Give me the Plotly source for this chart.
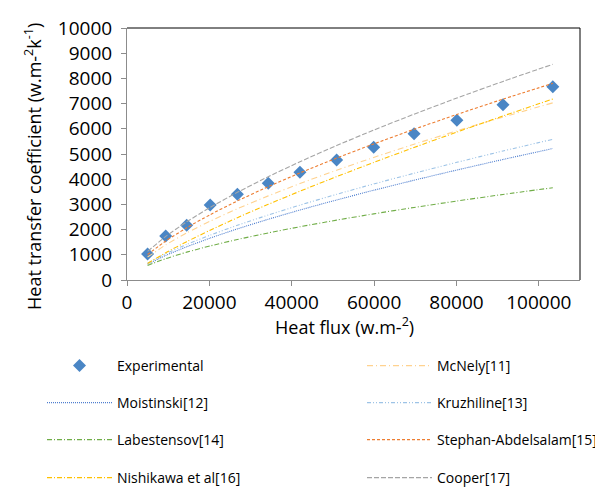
import plotly.graph_objects as go

# ---- data ----
heat_flux = [5000, 9400, 14500, 20200, 26800, 34300, 42000, 50900, 59900, 69700, 80100, 91300, 103400]

experimental = [1030, 1750, 2170, 2980, 3400, 3840, 4280, 4760, 5270, 5800, 6340, 6950, 7670]
mcnely       = [910, 1393, 1867, 2335, 2826, 3338, 3827, 4358, 4864, 5388, 5918, 6465, 7031]
moistinski   = [626, 974, 1319, 1663, 2028, 2410, 2777, 3177, 3560, 3959, 4364, 4782, 5217]
kruzhiline   = [670, 1042, 1412, 1780, 2170, 2579, 2972, 3400, 3811, 4237, 4670, 5118, 5584]
labestensov  = [577, 848, 1105, 1352, 1607, 1868, 2114, 2376, 2625, 2879, 3134, 3394, 3662]
stephan      = [1010, 1547, 2072, 2592, 3137, 3705, 4248, 4837, 5399, 5980, 6569, 7175, 7804]
nishikawa    = [656, 1080, 1521, 1977, 2471, 3003, 3524, 4102, 4665, 5259, 5870, 6508, 7182]
cooper       = [1135, 1729, 2309, 2880, 3478, 4100, 4693, 5336, 5947, 6581, 7221, 7880, 8560]

x_ticks = [0, 20000, 40000, 60000, 80000, 100000]
y_ticks = [0, 1000, 2000, 3000, 4000, 5000, 6000, 7000, 8000, 9000, 10000]

x_title = "Heat flux (w.m-<sup>2</sup>)"
y_title = "Heat transfer coefficient (w.m-<sup>2</sup>k<sup>-1</sup>)"

FONT = "Open Sans"

series = [
    ("McNely[11]", mcnely, "#FFD28F", "6px,3px,1px,3px", "legend2"),
    ("Moistinski[12]", moistinski, "#4F7FCF", "1px,1px", "legend3"),
    ("Kruzhiline[13]", kruzhiline, "#9DC3E6", "4px,2px,1px,2px,1px,2px", "legend4"),
    ("Labestensov[14]", labestensov, "#70AD47", "5px,2px,1px,2px", "legend5"),
    ("Stephan-Abdelsalam[15]", stephan, "#ED7D31", "3px,2px", "legend6"),
    ("Nishikawa et al[16]", nishikawa, "#FFC000", "5px,2px,1px,2px", "legend7"),
    ("Cooper[17]", cooper, "#A5A5A5", "5px,2px", "legend8"),
]

fig = go.Figure()
fig.add_trace(go.Scatter(
    x=heat_flux, y=experimental, mode="markers", name="Experimental",
    marker=dict(symbol="diamond", size=10, color="#4A86C5"),
    legend="legend"))
for name, vals, color, dash, lg in series:
    fig.add_trace(go.Scatter(
        x=heat_flux, y=vals, mode="lines", name=name,
        line=dict(color=color, width=1.1, dash=dash, shape="spline", smoothing=0.6),
        legend=lg))

W, H = 603, 488
rows_y = [358, 395, 432, 470]
left_x, right_x = 34, 354
positions = [
    (left_x, rows_y[0]), (right_x, rows_y[0]),
    (left_x, rows_y[1]), (right_x, rows_y[1]),
    (left_x, rows_y[2]), (right_x, rows_y[2]),
    (left_x, rows_y[3]), (right_x, rows_y[3]),
]
legend_names = ["legend", "legend2", "legend3", "legend4", "legend5", "legend6", "legend7", "legend8"]
legend_layout = {}
for lg, (px, py) in zip(legend_names, positions):
    legend_layout[lg] = dict(
        x=px / W, y=1 - py / H, xref="container", yref="container",
        xanchor="left", yanchor="middle", bgcolor="rgba(0,0,0,0)",
        font=dict(family=FONT, size=14, color="#000000"), itemwidth=65,
    )

L, R, T, B = 119, 31, 20, 216
plot_w = W - L - R
plot_h = H - T - B

fig.update_layout(
    width=W, height=H,
    margin=dict(l=L, r=R, t=T, b=B, autoexpand=False),
    paper_bgcolor="white", plot_bgcolor="white",
    showlegend=True,
    font=dict(family=FONT, color="#000000"),
    xaxis=dict(
        range=[0, 110000], tickvals=x_ticks, ticktext=[str(v) for v in x_ticks],
        showgrid=False, zeroline=False, showline=True, linecolor="#8C8C8C", linewidth=1,
        ticks="outside", ticklen=5, tickcolor="#8C8C8C",
        tickfont=dict(family=FONT, size=19, color="#000000"),
        automargin=False,
    ),
    yaxis=dict(
        range=[0, 10000], tickvals=y_ticks, ticktext=[str(v) + "\u2009\u200a" for v in y_ticks],
        showgrid=False, zeroline=False, showline=True, linecolor="#8C8C8C", linewidth=1,
        ticks="outside", ticklen=5, tickcolor="#8C8C8C",
        tickfont=dict(family=FONT, size=19, color="#000000"),
        automargin=False,
    ),
    shapes=[
        dict(type="line", xref="paper", yref="paper", x0=0, x1=1, y0=1, y1=1, line=dict(color="#000000", width=1)),
        dict(type="line", xref="paper", yref="paper", x0=1, x1=1, y0=0, y1=1, line=dict(color="#000000", width=1)),
    ],
    annotations=[
        dict(text=x_title, xref="paper", yref="paper",
             x=(336 - L) / plot_w, y=-(318 - (H - B)) / plot_h,
             xanchor="center", yanchor="middle", showarrow=False,
             font=dict(family=FONT, size=18, color="#000000")),
        dict(text=y_title, xref="paper", yref="paper",
             x=(25 - L) / plot_w, y=((H - B) - 159) / plot_h,
             xanchor="center", yanchor="middle", showarrow=False, textangle=-90,
             font=dict(family=FONT, size=18, color="#000000")),
    ],
    **legend_layout,
)

fig.write_html("out.html")
